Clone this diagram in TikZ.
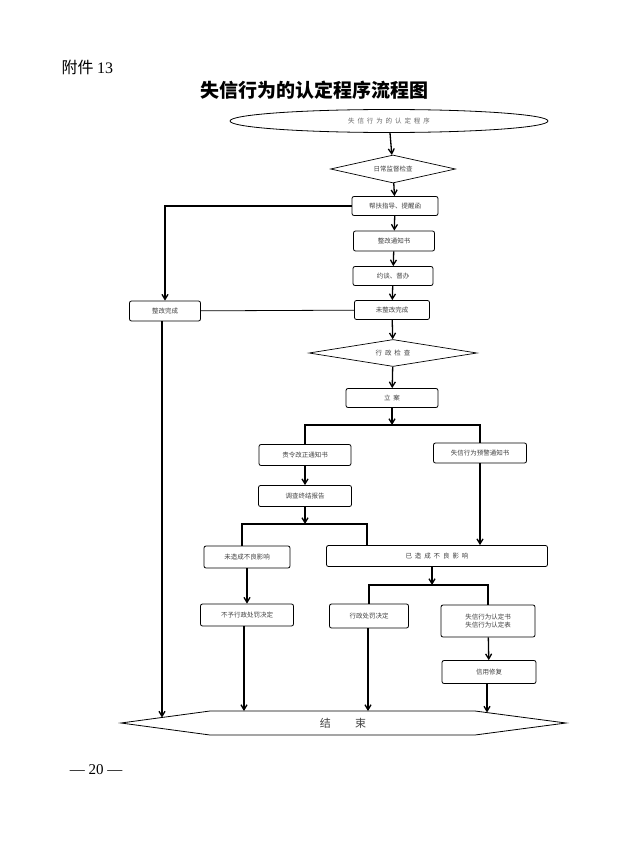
\documentclass[tikz,border=0pt]{standalone}
\usepackage{fontspec}
\setmainfont{Liberation Serif}
\newfontfamily\cjk{Noto Sans CJK SC}
\usetikzlibrary{shapes.geometric,arrows.meta}
\begin{document}
\begin{tikzpicture}[x=1pt,y=-1pt,
  box/.style={draw,line width=0.8pt,rounded corners=2pt,inner sep=0pt,font=\cjk\fontsize{6.5}{8}\selectfont,text=black!75,align=center},
  dia/.style={draw,line width=0.7pt,diamond,aspect=4.5,inner sep=0pt,font=\cjk\fontsize{6.5}{8}\selectfont,text=black!75},
  ln/.style={line width=1.3pt},
  ar/.style={line width=1.3pt,-{Straight Barb[length=5pt,width=6pt]}}]
\useasboundingbox (0,0) rectangle (628,843);
\node[font=\cjk\fontsize{16}{18}\selectfont,anchor=west] (att) at (58,67) {附件 {\rmfamily 13}};
\node[font=\cjk\fontsize{19}{22}\selectfont\bfseries] (title) at (314,90) {失信行为的认定程序流程图};
\node[draw,ellipse,line width=0.8pt,minimum width=318,minimum height=23,inner sep=0pt,font=\cjk\fontsize{6.5}{8}\selectfont,text=black!60] (start) at (389,121) {失\ \ 信\ \ 行\ \ 为\ \ 的\ \ 认\ \ 定\ \ 程\ \ 序};
\node[dia,minimum width=125,minimum height=28] (d1) at (393,169) {日常监督检查};
\node[box,minimum width=86,minimum height=19] (b1) at (395,206) {帮扶指导、提醒函};
\node[box,minimum width=81,minimum height=20] (b2) at (394,241) {整改通知书};
\node[box,minimum width=80,minimum height=19] (b3) at (393,276) {约谈、督办};
\node[box,minimum width=75,minimum height=19] (b4) at (392,310) {未整改完成};
\node[box,minimum width=71,minimum height=20] (ok) at (165,311) {整改完成};
\node[dia,minimum width=168,minimum height=27] (d2) at (393,353) {行\ \ 政\ \ 检\ \ 查};
\node[box,minimum width=92,minimum height=19] (la) at (392,398) {立\ \ 案};
\node[box,minimum width=92,minimum height=21] (zl) at (305,455) {责令改正通知书};
\node[box,minimum width=93,minimum height=20] (yj) at (480,453) {失信行为预警通知书};
\node[box,minimum width=93,minimum height=21] (dc) at (305,496) {调查终结报告};
\node[box,minimum width=86,minimum height=22] (wz) at (247,557) {未造成不良影响};
\node[box,minimum width=221,minimum height=21] (yz) at (437,556) {已\ \ 造\ \ 成\ \ 不\ \ 良\ \ 影\ \ 响};
\node[box,minimum width=93,minimum height=22] (bc) at (247,615) {不予行政处罚决定};
\node[box,minimum width=79,minimum height=24] (xc) at (369,616) {行政处罚决定};
\node[box,minimum width=94,minimum height=32] (rd) at (488,621) {失信行为认定书\\失信行为认定表};
\node[box,minimum width=94,minimum height=23] (xf) at (489,672) {信用修复};
% end hexagon
\coordinate (e1) at (121,723); \coordinate (e2) at (210,711); \coordinate (e3) at (475,711);
\coordinate (e4) at (566,723); \coordinate (e5) at (475,735); \coordinate (e6) at (210,735);
\draw[line width=0.8pt] (e1)--(e2)--(e3)--(e4)--(e5)--(e6)--cycle;
\node[font=\cjk\fontsize{11}{12}\selectfont,text=black!75] (end) at (343,723) {结\hspace{2.2em}束};
\node[font=\rmfamily\fontsize{15}{16}\selectfont] (pg) at (96,770) {— 20 —};
\coordinate (t1) at (162,717.5); \coordinate (t2) at (244,711); \coordinate (t3) at (368,711); \coordinate (t4) at (487,712.5);
% connectors
\draw[ar] (start) -- (d1);
\draw[ar] (d1) -- (b1);
\draw[ar] (b1) -- (b2);
\draw[ar] (b2) -- (b3);
\draw[ar] (b3) -- (b4);
\draw[ar] (b1.west) -| (ok.north);
\draw[line width=0.8pt] (ok) -- (b4);
\draw[ar] (b4) -- (d2);
\draw[ar] (d2) -- (la);
\draw[ar] (la) -- (392,425);
\draw[ln] (zl.north) |- (392,425) -| (yj.north);
\draw[ar] (zl) -- (dc);
\draw[ar] (dc) -- (305,524);
\draw[ln] (242,546) |- (367,524) -- (367,546);
\draw[ar] (yj.south) -- (yj.south |- yz.north);
\draw[ar] (yz.south -| 432,0) -- (432,585);
\draw[ln] (xc.north) |- (488,585) -- (rd.north);
\draw[ar] (wz.south) -- (bc.north);
\draw[ar] (rd) -- (xf);
\draw[ar] (ok.south -| 162,0) -- (t1);
\draw[ar] (bc.south -| 244,0) -- (t2);
\draw[ar] (xc.south -| 368,0) -- (t3);
\draw[ar] (xf.south -| 487,0) -- (t4);
\end{tikzpicture}
\end{document}
